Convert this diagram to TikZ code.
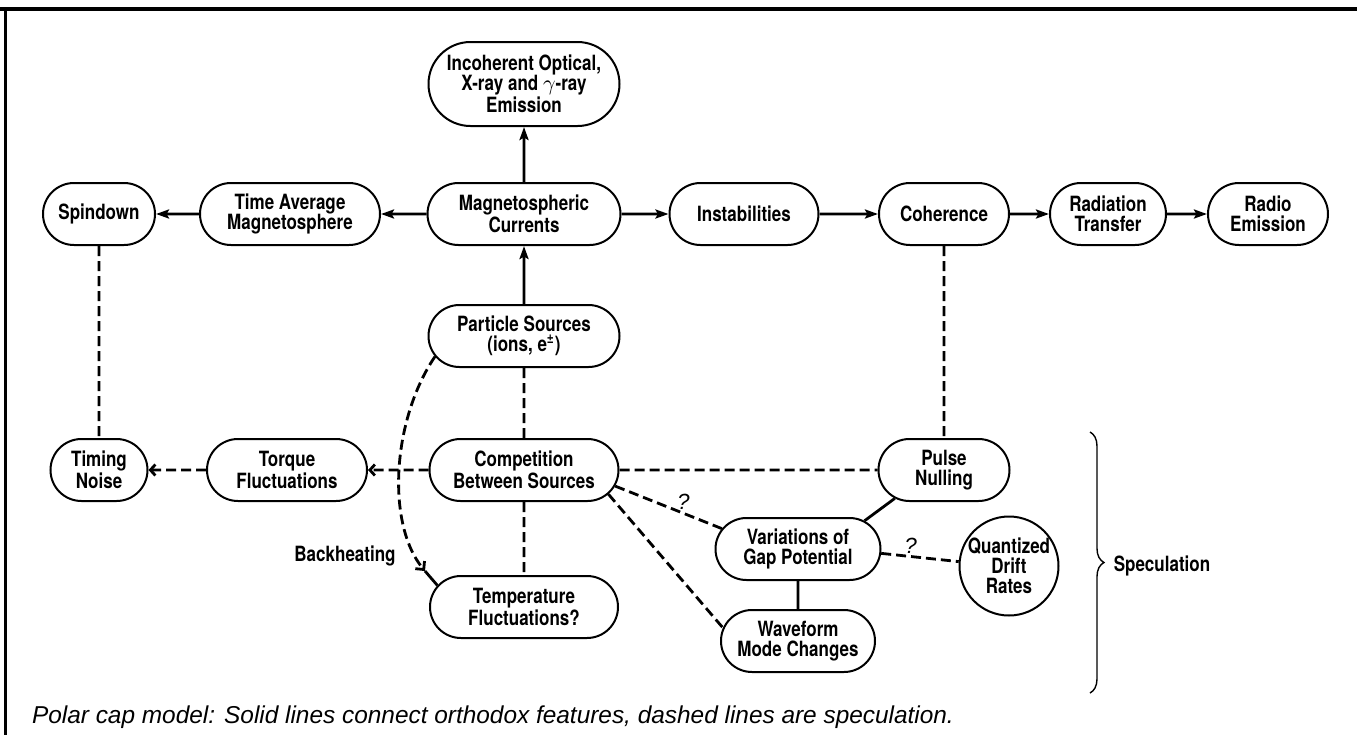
\documentclass[tikz,border=0pt]{standalone}
\usepackage{fontspec}
\usetikzlibrary{shapes.misc,arrows.meta,decorations.pathreplacing}
\newfontfamily\boxfont[FakeStretch=0.81]{TeX Gyre Heros}
\newfontfamily\capfont{Liberation Sans}

\begin{document}
\begin{tikzpicture}[x=1pt, y=1pt, every node/.style={font=\boxfont\bfseries\fontsize{10.5}{10}\selectfont}]

	\tikzset{
	capsule/.style={draw, line width=1pt, rounded rectangle, minimum height=31pt, inner xsep=2pt, align=center},
	orthodox/.style={line width=1.4pt, -{Stealth[length=6.5pt,width=4.5pt,inset=1.2pt]}},
	guess/.style={line width=1.4pt, dash pattern=on 5pt off 2.5pt},
	guessarrow/.style={guess, -{Straight Barb[length=2.5pt,width=5.5pt]}},
	qmark/.style={font=\capfont\itshape\fontsize{11}{11}\selectfont, inner sep=1pt}
	}

	\useasboundingbox (0,0) rectangle (678.5,-367.5);

	% Frame
	\draw[line width=1.6pt] (0,-4.5) -- (678.5,-4.5);
	\draw[line width=1.5pt] (2.5,-4.5) -- (2.5,-367.5);

	% Nodes
	\node[capsule, minimum width=100.5pt] (mag) at (262,-107) {Magnetospheric\\Currents};
	\node[capsule, minimum width=94pt, node distance=117pt, left of=mag] (tavg) {Time Average\\Magnetosphere};
	\node[capsule, minimum width=60pt, node distance=95.5pt, left of=tavg] (spin) {Spindown};
	\node[capsule, minimum width=78.5pt, node distance=110pt, right of=mag] (inst) {Instabilities};
	\node[capsule, minimum width=69pt, node distance=100pt, right of=inst] (coh) {Coherence};
	\node[capsule, minimum width=62pt, node distance=82pt, right of=coh] (rtr) {Radiation\\Transfer};
	\node[capsule, minimum width=64pt, node distance=80pt, right of=rtr] (rad) {Radio\\Emission};
	\node[capsule, minimum width=99.5pt, minimum height=42pt, node distance=65pt, above of=mag] (inc) {Incoherent Optical,\\X-ray and $\gamma$-ray\\Emission};
	\node[capsule, minimum width=99.5pt, node distance=61pt, below of=mag] (part) {Particle Sources\\(ions, e\textsuperscript{±})};
	\node[capsule, minimum width=98.5pt, node distance=67pt, below of=part] (comp) {Competition\\Between Sources};
	\node[capsule, minimum width=98pt, node distance=68.5pt, below of=comp] (temp) {Temperature\\Fluctuations?};
	\node[capsule, minimum width=84pt, node distance=118.5pt, left of=comp] (torq) {Torque\\Fluctuations};
	\node[capsule, minimum width=52.5pt, node distance=94pt, left of=torq] (tim) {Timing\\Noise};
	\node[capsule, minimum width=69.5pt, node distance=210pt, right of=comp] (puls) {Pulse\\Nulling};
	\node[capsule, minimum width=86.5pt] (var) at (399,-274.5) {Variations of\\Gap Potential};
	\node[capsule, minimum width=81pt, node distance=46pt, below of=var] (wave) {Waveform\\Mode Changes};
	\node[draw, line width=1pt, circle, minimum size=49.5pt, inner sep=-1.5pt, align=center] (quan) at (504.5,-283) {Quantized\\Drift\\Rates};
	\node (spec) at (581,-283) {Speculation};
	\node (bh) at (172.5,-278) {Backheating};
	\node[anchor=base west, font=\capfont\itshape\fontsize{12.2}{14}\selectfont] (cap) at (12.5,-361.5) {Polar cap model: Solid lines connect orthodox features, dashed lines are speculation.};

	% Lines
	\draw[orthodox] (tavg) -- (spin);
	\draw[orthodox] (mag) -- (tavg);
	\draw[orthodox] (mag) -- (inst);
	\draw[orthodox] (inst) -- (coh);
	\draw[orthodox] (coh) -- (rtr);
	\draw[orthodox] (rtr) -- (rad);
	\draw[orthodox] (mag) -- (inc);
	\draw[orthodox] (part) -- (mag);
	\draw[guess] (spin) -- (tim);
	\draw[guess] (coh) -- (puls);
	\draw[guess] (part) -- (comp);
	\draw[guess] (comp) -- (temp);
	\draw[guess] (comp) -- (puls);
	\draw[guessarrow] (comp) -- (torq);
	\draw[guessarrow] (torq) -- (tim);
	\draw[guess] (comp.-10) -- node[pos=0.64, anchor=south, qmark] {?} (var.165);
	\draw[guess] (comp.-16) -- (wave.170);
	\draw[guess] (var.-3) -- node[pos=0.38, anchor=south, qmark] {?} (quan.175);
	\draw[line width=1.4pt] (puls.210) -- (var.23);
	\draw[line width=1.4pt] (var) -- (wave);

	% Backheating
	\coordinate (bhtip) at (212.5,-285.5);
	\draw[guess, -{Straight Barb[length=3pt,width=6pt]}] (part.193) .. controls (196,-210) and (193,-262) .. (bhtip);
	\draw[line width=1.4pt] (bhtip) -- (temp.166);

	% Brace
	\draw[line width=0.7pt, decorate, decoration={brace, amplitude=7pt}] (545,-216) -- (545,-346.5);

\end{tikzpicture}
\end{document}
